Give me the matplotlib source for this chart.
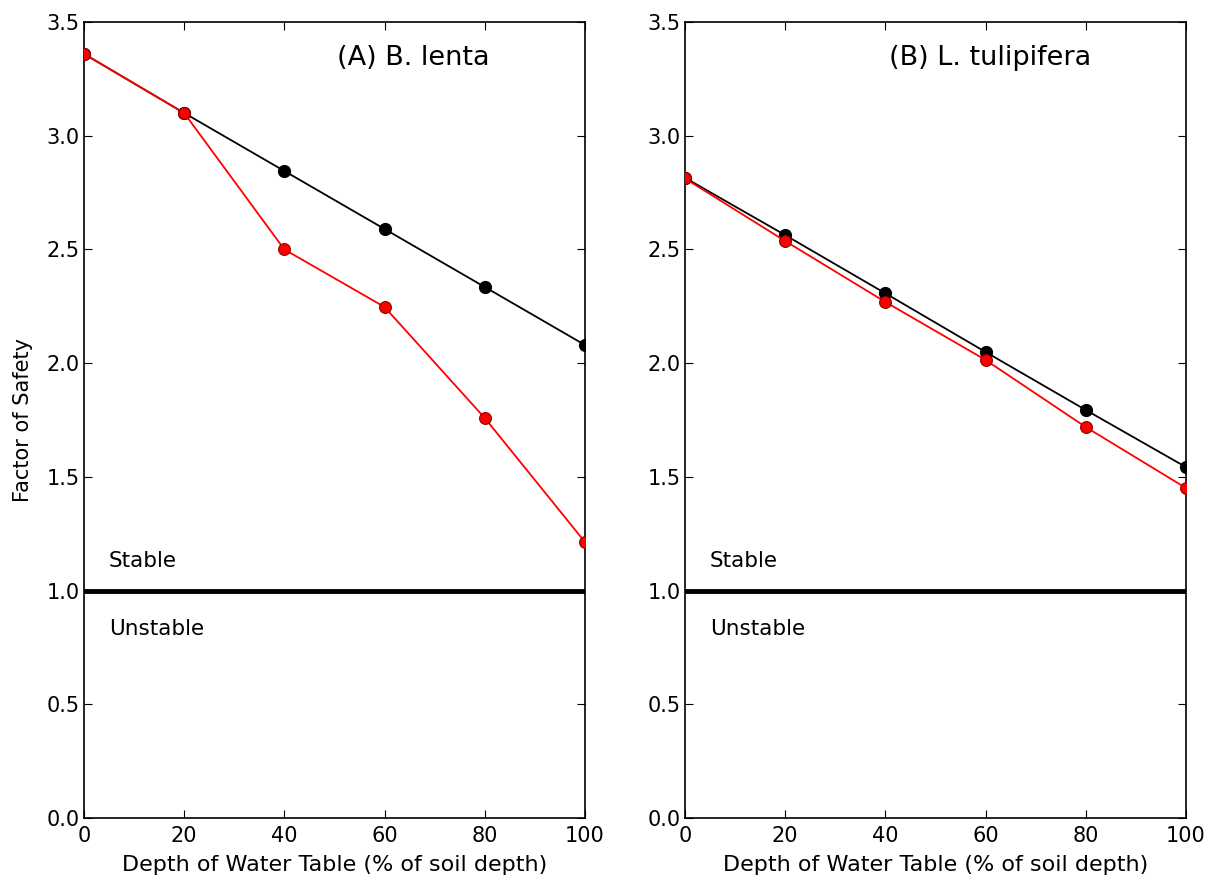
import matplotlib
matplotlib.use("Agg")
import matplotlib.pyplot as plt

depth = [0, 20, 40, 60, 80, 100]
a_black = [3.36, 3.10, 2.845, 2.59, 2.335, 2.08]
a_red = [3.36, 3.10, 2.50, 2.247, 1.759, 1.214]
b_black = [2.815, 2.563, 2.307, 2.049, 1.794, 1.543]
b_red = [2.812, 2.537, 2.269, 2.014, 1.719, 1.451]
titles = ["(A) B. lenta", "(B) L. tulipifera"]
xticks = [0, 20, 40, 60, 80, 100]
yticks = [0.0, 0.5, 1.0, 1.5, 2.0, 2.5, 3.0, 3.5]

plt.rcParams['font.family'] = ['DejaVu Sans']
fig = plt.figure(figsize=(12.15, 8.81), dpi=100)
ax1 = fig.add_axes([0.0691, 0.0715, 0.4123, 0.9035])
ax2 = fig.add_axes([0.5638, 0.0715, 0.4123, 0.9035])

data = [(a_black, a_red), (b_black, b_red)]
title_x = [65.7, 61.0]
for ax, (blk, red), title, tx in zip([ax1, ax2], data, titles, title_x):
    ax.plot(depth, blk, color='black', lw=1.3, marker='o', ms=8.5,
            mfc='black', mec='black', zorder=3)
    ax.plot(depth, red, color='red', lw=1.3, marker='o', ms=8.5,
            mfc='red', mec='#8b0000', mew=0.8, zorder=4)
    ax.axhline(1.0, color='black', lw=3.5, zorder=2)
    ax.set_xlim(0, 100)
    ax.set_ylim(0, 3.5)
    ax.set_xticks(xticks)
    ax.set_yticks(yticks)
    ax.set_yticklabels([f"{v:.1f}" for v in yticks])
    ax.tick_params(direction='in', top=True, right=True, length=6, width=0.8,
                   labelsize=15, pad=3, colors='black')
    ax.tick_params(axis='x', pad=6)
    for s in ax.spines.values():
        s.set_linewidth(1.2)
    ax.text(tx, 3.34, title, fontsize=19.5, ha='center', va='center')
    ax.text(5, 1.13, "Stable", fontsize=15.5, ha='left', va='center')
    ax.text(5, 0.83, "Unstable", fontsize=15.5, ha='left', va='center')
    ax.set_xlabel("Depth of Water Table (% of soil depth)", fontsize=16, labelpad=6)

ax1.set_ylabel("Factor of Safety", fontsize=15, labelpad=10)

fig.savefig("out.png", dpi=100)
